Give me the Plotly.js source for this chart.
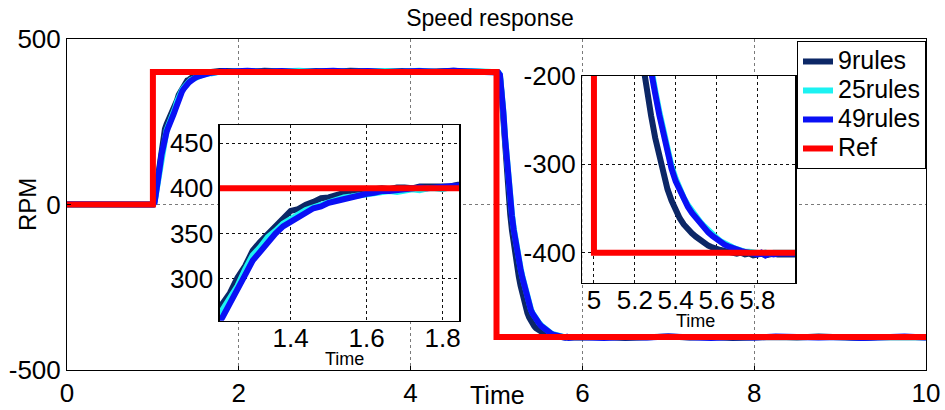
<!DOCTYPE html>
<html>
<head>
<meta charset="utf-8">
<script src="https://cdn.plot.ly/plotly-3.0.1.min.js"></script>
<style>html,body{margin:0;padding:0;background:#fff;}#chart{width:945px;height:410px;}</style>
</head>
<body>
<div id="chart"></div>
<script>
// ---- data ----
var seriesNames = ['9rules', '25rules', '49rules', 'Ref'];

// before the step
var preT     = [0, 0.25, 0.5, 0.75, 0.98];
var navyPre  = [0, 1, -1, 1, 0];
var cyanPre  = [0, -1, 1, 0, 1];
var bluePre  = [1, 0, -1, 1, 0];

// rising transient
var riseT = [1.00,1.02,1.04,1.06,1.08,1.10,1.12,1.14,1.16,1.18,1.20,1.22,1.24,1.26,1.28,1.30,1.32,1.34,1.36,1.38,1.40,1.42,1.44,1.46,1.48,1.50,1.52,1.54,1.56,1.58,1.60,1.62,1.64,1.66,1.68,1.70,1.72,1.74,1.76,1.78,1.80,1.82,1.84,1.86];
var navyRise = [0,12,50,95,138,175,205,228,243,254,263,272,284,301,314,331,341,349,359,367,375,377,382,385,389,390,393,395,396,398,398,399,400,399,401,401,400,402,402,403,403,402,404,403];
var cyanRise = [0,8,38,76,116,154,184,207,225,238,250,263,278,292,310,326,335,346,353,361,366,371,376,379,382,385,387,390,391,392,393,395,396,397,396,398,399,398,400,400,399,401,401,400];
var blueRise = [0,6,35,72,112,150,180,203,220,234,244,257,272,286,304,320,330,342,350,358,363,369,373,378,380,384,386,388,391,392,394,395,397,397,398,399,399,401,400,401,402,402,403,401];

// steady state at +400
var steadyT    = [1.9,2.1,2.3,2.5,2.7,2.9,3.1,3.3,3.5,3.7,3.9,4.1,4.3,4.5,4.7,4.9,4.98];
var navySteady = [403,401,404,402,400,403,401,404,402,401,403,400,402,404,401,403,402];
var cyanSteady = [401,403,400,402,404,401,403,400,402,403,401,404,400,402,403,401,402];
var blueSteady = [402,404,401,403,400,402,404,401,403,400,402,403,401,404,402,400,403];

// falling transient
var fallT = [5.00,5.02,5.04,5.06,5.08,5.10,5.12,5.14,5.16,5.18,5.20,5.22,5.24,5.26,5.28,5.30,5.32,5.34,5.36,5.38,5.40,5.42,5.44,5.46,5.48,5.50,5.52,5.54,5.56,5.58,5.60,5.62,5.64,5.66,5.68,5.70,5.72,5.74,5.76,5.78,5.80,5.82,5.84,5.86,5.88,5.90];
var navyFall = [400,398,385,330,250,170,95,25,-30,-78,-120,-157,-190,-218,-245,-270,-292,-312,-328,-341,-352,-361,-368,-374,-378,-382,-386,-389,-392,-394,-396,-397,-398,-399,-400,-401,-400,-402,-401,-403,-402,-401,-403,-402,-401,-402];
var cyanFall = [400,399,393,352,281,204,132,65,15,-30,-71,-108,-140,-168,-192,-216,-240,-263,-284,-302,-316,-328,-338,-346,-353,-359,-365,-370,-375,-379,-383,-387,-390,-392,-394,-396,-398,-399,-399,-400,-400,-401,-400,-401,-400,-400];
var blueFall = [400,399,392,350,278,200,128,60,10,-35,-76,-112,-144,-172,-196,-220,-244,-267,-288,-305,-319,-330,-340,-348,-355,-361,-367,-372,-377,-381,-385,-388,-391,-393,-395,-397,-398,-399,-400,-401,-402,-400,-403,-401,-402,-401];

// steady state at -400
var tailT    = [6.0,6.25,6.5,6.75,7.0,7.25,7.5,7.75,8.0,8.25,8.5,8.75,9.0,9.25,9.5,9.75,10.0];
var navyTail = [-402,-400,-403,-401,-399,-402,-400,-403,-401,-400,-402,-399,-401,-403,-400,-402,-401];
var cyanTail = [-400,-402,-399,-401,-403,-400,-402,-399,-401,-402,-400,-403,-399,-401,-402,-400,-401];
var blueTail = [-401,-403,-400,-402,-399,-401,-403,-400,-402,-399,-401,-402,-400,-403,-401,-399,-402];

// reference speed
var refT = [0, 1, 1, 5, 5, 10];
var refV = [0, 0, 400, 400, -400, -400];

// tick labels
var mainXTicks = [0, 2, 4, 6, 8, 10];
var mainYTicks = [-500, 0, 500];
var mainYText  = ['-500', '0', '500'];
var in1XTicks = [1.4, 1.6, 1.8];
var in1YTicks = [300, 350, 400, 450];
var in2XTicks = [5, 5.2, 5.4, 5.6, 5.8];
var in2YTicks = [-400, -300, -200];
var in2YText  = ['-400', '-300', '-200'];

// ---- assemble ----
var time = preT.concat(riseT, steadyT, fallT, tailT);
var navy = navyPre.concat(navyRise, navySteady, navyFall, navyTail);
var cyan = cyanPre.concat(cyanRise, cyanSteady, cyanFall, cyanTail);
var blue = bluePre.concat(blueRise, blueSteady, blueFall, blueTail);

var colors = ['#0c2766', '#1cf2f2', '#0a10f5', '#ff0000'];
var ys = [navy, cyan, blue, refV];
var FONT = 'Liberation Sans, Arial, sans-serif';

var traces = [];
var axesSets = [['x','y',true], ['x2','y2',false], ['x3','y3',false]];
axesSets.forEach(function(a){
  for (var i = 0; i < 4; i++) {
    traces.push({
      type: 'scatter', mode: 'lines',
      x: i === 3 ? refT : time,
      y: ys[i],
      name: '<span style="font-size:25px">' + seriesNames[i] + '</span>',
      xaxis: a[0], yaxis: a[1],
      showlegend: a[2],
      line: {color: colors[i], width: 6},
      hoverinfo: 'skip'
    });
  }
});

var gridMain = {showgrid: true, gridcolor: '#7a7a7a', gridwidth: 1, griddash: 'dot',
  showline: true, mirror: true, linecolor: '#000', linewidth: 1, zeroline: false,
  ticks: 'inside', ticklen: 4, tickcolor: '#000',
  tickfont: {family: FONT, size: 26, color: '#000'}, tickangle: 0};
function inset(extra){
  var o = {showgrid: true, gridcolor: '#111', gridwidth: 1, griddash: 'dot',
    showline: true, mirror: true, linecolor: '#000', linewidth: 1.5, zeroline: false,
    ticks: '', tickfont: {family: FONT, size: 26, color: '#000'}, tickangle: 0};
  for (var k in extra) o[k] = extra[k];
  return o;
}

var layout = {
  width: 945, height: 410,
  margin: {l: 67, r: 19, t: 39, b: 40},
  paper_bgcolor: '#fff', plot_bgcolor: '#fff',
  font: {family: FONT, color: '#000'},
  title: {text: 'Speed response', font: {family: FONT, size: 23, color: '#000'},
          x: 0.5185, xanchor: 'center', y: 0.956, yanchor: 'middle', yref: 'container'},
  xaxis: Object.assign({}, gridMain, {range: [0, 10], tickvals: mainXTicks}),
  yaxis: Object.assign({}, gridMain, {range: [-500, 500], tickvals: mainYTicks, ticktext: mainYText}),
  xaxis2: inset({domain: [0.1781, 0.4567], anchor: 'y2', range: [1.214, 1.844], tickvals: in1XTicks, ticklabelstandoff: -6}),
  yaxis2: inset({domain: [0.149, 0.740], anchor: 'x2', range: [253.6, 470], tickvals: in1YTicks}),
  xaxis3: inset({domain: [0.5999, 0.8478], anchor: 'y3', range: [4.943, 5.986], tickvals: in2XTicks, ticklabelstandoff: -6}),
  yaxis3: inset({domain: [0.2637, 0.888], anchor: 'x3', range: [-434, -200], tickvals: in2YTicks, ticktext: in2YText}),
  showlegend: true,
  legend: {x: 1.0, xanchor: 'right', y: 0.994, yanchor: 'top',
           bgcolor: '#fff', bordercolor: '#000', borderwidth: 1,
           font: {family: FONT, size: 20, color: '#000'}, itemwidth: 30, tracegroupgap: 0},
  annotations: [
    {text: 'Time', xref: 'paper', yref: 'paper', x: 0.5017, y: -0.0755, xanchor: 'center', yanchor: 'middle',
     showarrow: false, font: {family: FONT, size: 25, color: '#000'}},
    {text: 'RPM', xref: 'paper', yref: 'paper', x: -0.0454, y: 0.4985, xanchor: 'center', yanchor: 'middle',
     textangle: -90, showarrow: false, font: {family: FONT, size: 24, color: '#000'}},
    {text: 'Time', xref: 'paper', yref: 'paper', x: 0.3236, y: 0.034, xanchor: 'center', yanchor: 'middle',
     showarrow: false, font: {family: FONT, size: 18, color: '#000'}},
    {text: 'Time', xref: 'paper', yref: 'paper', x: 0.7311, y: 0.148, xanchor: 'center', yanchor: 'middle',
     showarrow: false, font: {family: FONT, size: 18, color: '#000'}}
  ]
};

Plotly.newPlot('chart', traces, layout, {staticPlot: true, displayModeBar: false});
</script>
</body>
</html>
